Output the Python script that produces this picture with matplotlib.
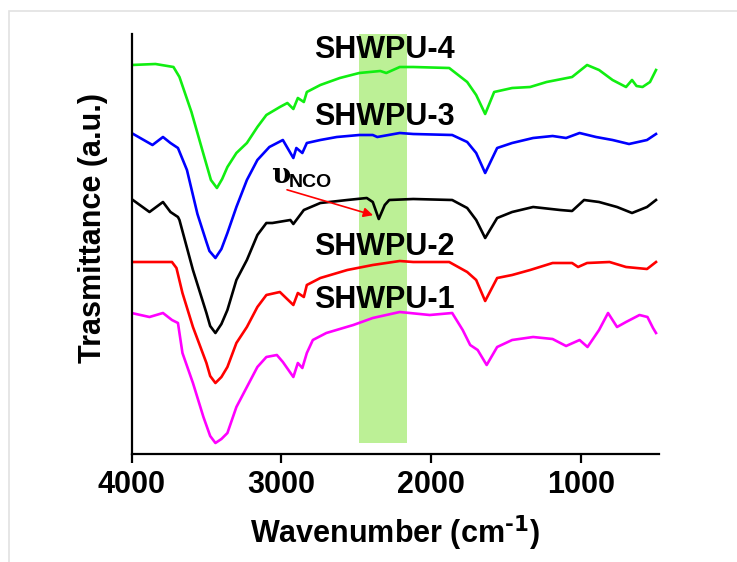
import matplotlib.pyplot as plt
from matplotlib.patches import Rectangle

plt.rcParams['font.family'] = ['Liberation Sans', 'DejaVu Sans']
plt.rcParams['font.weight'] = 'bold'
plt.rcParams['mathtext.default'] = 'bf'

# FTIR spectra (wavenumber in cm-1, transmittance in a.u.)
wn_4 = [4000, 3840, 3720, 3680, 3600, 3520, 3470, 3430, 3395, 3360, 3300, 3230, 3160, 3100, 3010,
        2960, 2920, 2890, 2850, 2830, 2740, 2610, 2480, 2340, 2300, 2210, 2120, 1880, 1760, 1700,
        1640, 1580, 1460, 1340, 1230, 1060, 960, 880, 790, 700, 660, 630, 590, 540, 500]
tr_4 = [389, 390, 387, 377, 342, 300, 274, 266, 275, 287, 301, 311, 327, 339, 347,
        351, 345, 356, 352, 362, 369, 376, 381, 383, 381, 387, 387, 386, 372, 359,
        340, 362, 366, 367, 372, 377, 389, 384, 374, 367, 374, 368, 367, 372, 384]

wn_3 = [4000, 3860, 3790, 3740, 3690, 3630, 3560, 3500, 3480, 3440, 3400, 3360, 3300, 3230, 3160,
        3080, 2990, 2920, 2900, 2860, 2830, 2740, 2630, 2480, 2390, 2360, 2210, 2120, 1860, 1760,
        1700, 1640, 1560, 1460, 1320, 1190, 1100, 1010, 900, 790, 680, 560, 500]
tr_3 = [321, 309, 317, 311, 306, 284, 240, 212, 203, 196, 205, 221, 247, 274, 294,
        307, 314, 296, 306, 301, 311, 314, 317, 319, 319, 317, 321, 320, 319, 312,
        301, 281, 306, 311, 316, 318, 316, 321, 317, 314, 310, 314, 320]

wn_0 = [4000, 3880, 3790, 3740, 3690, 3680, 3590, 3500, 3475, 3440, 3400, 3360, 3300, 3230, 3160,
        3100, 3060, 2940, 2920, 2850, 2740, 2560, 2430, 2390, 2350, 2310, 2280, 2120, 1860, 1760,
        1700, 1640, 1560, 1460, 1320, 1140, 1060, 980, 880, 760, 660, 560, 500]
tr_0 = [255, 242, 252, 242, 237, 234, 184, 141, 128, 121, 130, 144, 174, 194, 219,
        231, 231, 234, 230, 244, 251, 254, 256, 252, 235, 249, 254, 255, 254, 246,
        234, 216, 236, 242, 247, 244, 243, 254, 252, 247, 241, 247, 254]

wn_2 = [4000, 3730, 3700, 3660, 3590, 3500, 3475, 3440, 3400, 3360, 3300, 3230, 3160, 3100, 3010,
        2920, 2890, 2850, 2830, 2740, 2560, 2390, 2210, 2120, 1880, 1760, 1700, 1640, 1560, 1460,
        1340, 1190, 1060, 1020, 960, 810, 700, 560, 500]
tr_2 = [192, 192, 186, 161, 127, 91, 78, 71, 77, 87, 111, 127, 147, 159, 162,
        149, 161, 157, 169, 176, 184, 189, 193, 192, 192, 182, 174, 153, 176, 179,
        184, 191, 191, 187, 191, 192, 187, 185, 192]

wn_1 = [4000, 3880, 3790, 3730, 3690, 3660, 3590, 3520, 3475, 3440, 3400, 3360, 3300, 3230, 3160,
        3100, 3030, 2990, 2920, 2890, 2860, 2830, 2790, 2700, 2520, 2390, 2210, 2010, 1860, 1790,
        1740, 1690, 1630, 1560, 1460, 1320, 1190, 1100, 1010, 957, 880, 820, 760, 700, 610,
        557, 520, 500]
tr_1 = [141, 137, 141, 134, 131, 101, 71, 37, 18, 11, 15, 21, 47, 67, 87,
        97, 99, 92, 77, 91, 86, 101, 114, 121, 129, 136, 142, 139, 141, 124,
        109, 104, 89, 107, 114, 117, 115, 108, 114, 107, 124, 141, 127, 132, 139,
        137, 126, 121]

band = [2480, 2160]
names = ["SHWPU-4", "SHWPU-3", "SHWPU-2", "SHWPU-1"]
name_y = [396, 329, 199, 146]

fig = plt.figure(figsize=(7.37, 5.62), dpi=100)
fig.patches.append(Rectangle((9 / 737, -0.1), 1.2, 1 - 11 / 562 + 0.1, transform=fig.transFigure,
                             fill=False, edgecolor='#e2e2e2', linewidth=1.2))
ax = fig.add_axes([131.5 / 737, 108 / 562, 527.5 / 737, 420 / 562])

ax.axvspan(band[0], band[1], ymin=11 / 420, ymax=1, color='#bcf096', linewidth=0, zorder=0)

lw = 1.9
for wn, tr, c in [(wn_4, tr_4, '#11ee11'), (wn_3, tr_3, '#0000ff'), (wn_0, tr_0, 'black'),
                  (wn_2, tr_2, '#ff0000'), (wn_1, tr_1, '#ff00ff')]:
    ax.plot(wn, tr, color=c, lw=lw, solid_joinstyle='round')

for nm, yy in zip(names, name_y):
    ax.text(2780, yy, nm, fontsize=22, fontweight='bold', ha='left', va='baseline')

ax.text(3070, 271, "υ", fontsize=20, fontweight='bold', family=['DejaVu Serif'], ha='left', va='baseline')
ax.text(2950, 267, "NCO", fontsize=14, fontweight='bold', ha='left', va='baseline')
ax.annotate("", xy=(2370, 238), xytext=(2980, 265),
            arrowprops=dict(arrowstyle='-|>', color='red', lw=1.2, mutation_scale=14))

ax.set_xlim(4000, 480)
ax.set_ylim(0, 420)
ax.set_xticks([4000, 3000, 2000, 1000])
ax.set_yticks([])
ax.spines['top'].set_visible(False)
ax.spines['right'].set_visible(False)
ax.spines['left'].set_linewidth(1.6)
ax.spines['bottom'].set_linewidth(1.6)
ax.tick_params(axis='x', direction='out', length=6.5, width=1.6, labelsize=22, pad=5)
for lab in ax.get_xticklabels():
    lab.set_fontweight('bold')

ax.set_xlabel("Wavenumber (cm$^{\\text{-1}}$)", fontsize=22, fontweight='bold', labelpad=10)
ax.set_ylabel("Trasmittance (a.u.)", fontsize=22, fontweight='bold')
ax.yaxis.set_label_coords(-0.045, 0.538)

fig.savefig("out.png", dpi=100)
